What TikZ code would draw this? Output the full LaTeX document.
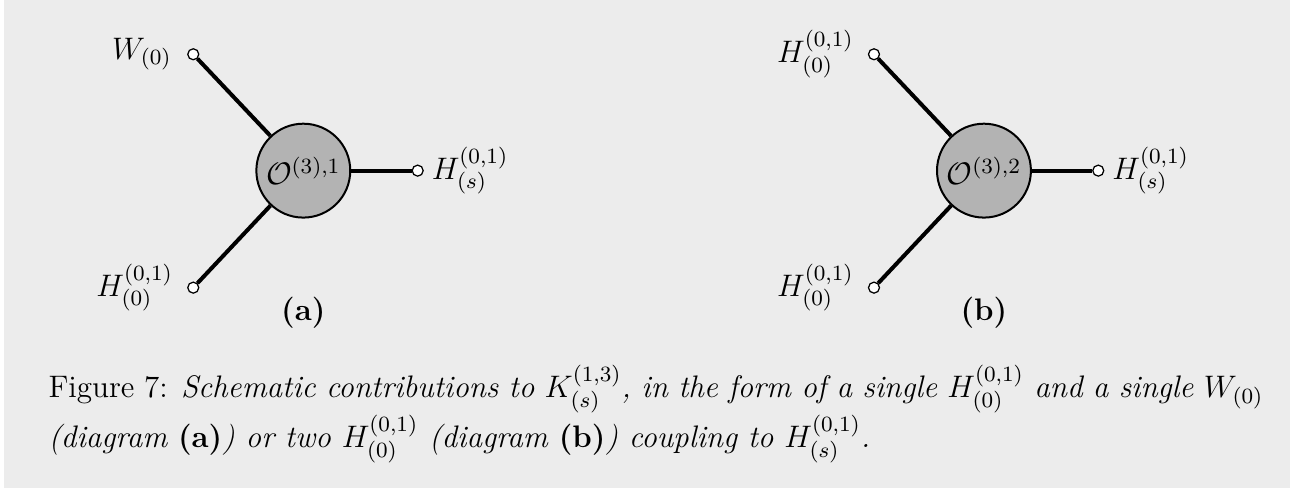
\RequirePackage{fix-cm}
\documentclass[tikz,border=0pt,12pt]{standalone}
\usetikzlibrary{positioning}

\definecolor{panelgray}{HTML}{ECECEC}
\definecolor{blobgray}{HTML}{B3B3B3}
\newcommand{\figfont}{\fontsize{12.45pt}{15pt}\selectfont}

\begin{document}
\begin{tikzpicture}[
  font=\figfont,
  blob/.style={circle,draw,line width=0.8pt,fill=blobgray,minimum size=1.32cm,inner sep=0pt},
  leg/.style={line width=1.6pt},
  ext/.style={circle,draw,fill=white,line width=0.5pt,minimum size=4.4pt,inner sep=0pt},
  tag/.style={font=\figfont\bfseries},
  caption/.style={text width=17.08cm,align=justify,inner sep=0pt},
]

% Panel
\useasboundingbox (0,0) rectangle (18.29,6.888);
\fill[panelgray] (0.056,0.028) rectangle (18.135,6.888);

% Diagram (a)
\node[blob] (oa) at (4.264,4.489) {$\mathcal{O}^{(3),1}$};
\node[ext] (wa) at (2.717,6.125) {};
\node[ext] (ha) at (2.717,2.844) {};
\node[ext] (sa) at (5.872,4.489) {};
\draw[leg] (oa) -- (wa);
\draw[leg] (oa) -- (ha);
\draw[leg] (oa) -- (sa);
\node[left=2pt of wa] (wal) {$W_{(0)}$};
\node[left=1.5pt of ha] (hal) {$H^{(0,1)}_{(0)}$};
\node[right=-1pt of sa] (sal) {$H^{(0,1)}_{(s)}$};
\node[tag] (taga) at (4.264,2.488) {(a)};

% Diagram (b)
\node[blob] (ob) at (13.833,4.489) {$\mathcal{O}^{(3),2}$};
\node[ext] (hb1) at (12.287,6.125) {};
\node[ext] (hb2) at (12.287,2.844) {};
\node[ext] (sb) at (15.440,4.489) {};
\draw[leg] (ob) -- (hb1);
\draw[leg] (ob) -- (hb2);
\draw[leg] (ob) -- (sb);
\node[left=1.5pt of hb1] (hb1l) {$H^{(0,1)}_{(0)}$};
\node[left=1.5pt of hb2] (hb2l) {$H^{(0,1)}_{(0)}$};
\node[right=-1pt of sb] (sbl) {$H^{(0,1)}_{(s)}$};
\node[tag] (tagb) at (13.833,2.488) {(b)};

% Caption
\node[caption,anchor=base west] (cap) at (0.675,1.298)
  {\lineskip=3.8pt Figure 7: \textit{Schematic contributions to $K^{(1,3)}_{(s)}$, in the form of a single $H^{(0,1)}_{(0)}$ and a single $W_{(0)}$ (diagram \textbf{\upshape(a)}) or two $H^{(0,1)}_{(0)}$ (diagram \textbf{\upshape(b)}) coupling to $H^{(0,1)}_{(s)}$.}};

\end{tikzpicture}
\end{document}
